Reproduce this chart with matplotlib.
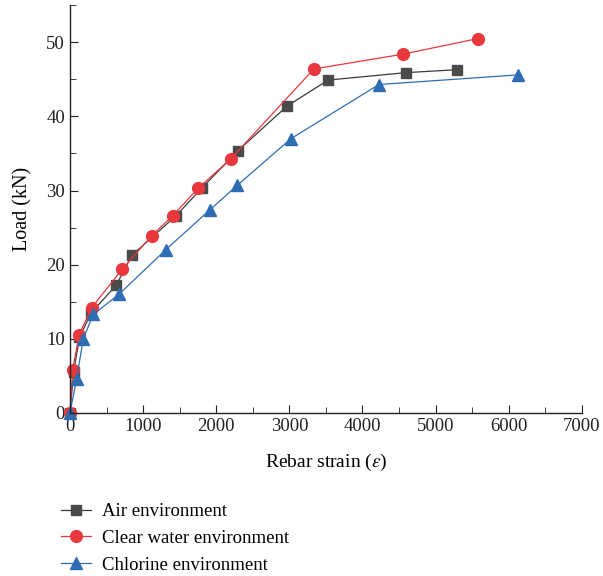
import matplotlib
matplotlib.use('Agg')
import matplotlib.pyplot as plt
import numpy as np
from matplotlib.ticker import MultipleLocator

# data
air_x = [0, 50, 130, 290, 630, 850, 1450, 1800, 2300, 2970, 3530, 4590, 5290]
air_y = [0, 5.5, 10.2, 13.5, 17.2, 21.3, 26.6, 30.3, 35.4, 41.4, 44.9, 45.9, 46.3]

water_x = [0, 37, 123, 296, 715, 1117, 1404, 1754, 2201, 3336, 4557, 5578]
water_y = [0, 5.8, 10.5, 14.2, 19.4, 23.9, 26.6, 30.3, 34.3, 46.4, 48.4, 50.5]

chlor_x = [0, 91, 182, 319, 670, 1308, 1914, 2288, 3022, 4225, 6125]
chlor_y = [0, 4.6, 10.0, 13.3, 16.0, 22.0, 27.4, 30.7, 37.0, 44.3, 45.6]

labels = ['Air environment', 'Clear water environment', 'Chlorine environment']

plt.rcParams['font.family'] = ['Liberation Serif', 'DejaVu Serif']
plt.rcParams['mathtext.fontset'] = 'stix'

fs = 13.5
fig = plt.figure(figsize=(6.03, 5.76), dpi=100)
ax = fig.add_axes([0.116, 0.283, 0.849, 0.708])

ax.plot(air_x, air_y, color='#3a3a3a', lw=0.9, marker='s', ms=7,
        mfc='#4a4a4a', mec='#4a4a4a', label=labels[0])
ax.plot(water_x, water_y, color='#e8383d', lw=0.9, marker='o', ms=8.5,
        mfc='#e8383d', mec='#e8383d', label=labels[1])
ax.plot(chlor_x, chlor_y, color='#2e6db4', lw=0.9, marker='^', ms=9,
        mfc='#2e6db4', mec='#2e6db4', label=labels[2])

ax.set_xlim(0, 7000)
ax.set_ylim(0, 55)
ax.xaxis.set_major_locator(MultipleLocator(1000))
ax.xaxis.set_minor_locator(MultipleLocator(500))
ax.yaxis.set_major_locator(MultipleLocator(10))
ax.yaxis.set_minor_locator(MultipleLocator(5))
ax.spines['top'].set_visible(False)
ax.spines['right'].set_visible(False)
for s in ['left', 'bottom']:
    ax.spines[s].set_linewidth(1.0)
    ax.spines[s].set_color('#222222')
ax.tick_params(which='both', direction='in', labelsize=fs, colors='#222222')
ax.tick_params(which='major', length=6)
ax.tick_params(which='minor', length=4)
for ln in ax.lines:
    ln.set_clip_on(False)

ax.set_xlabel(r'Rebar strain ($\varepsilon$)', fontsize=14, labelpad=12)
ax.set_ylabel('Load (kN)', fontsize=14.5, labelpad=10)

fig.legend(loc='upper left', bbox_to_anchor=(0.086, 0.143), frameon=False,
           fontsize=fs, handlelength=1.6, labelspacing=0.52, handletextpad=0.55,
           borderpad=0)

fig.savefig('out.png', dpi=100)
